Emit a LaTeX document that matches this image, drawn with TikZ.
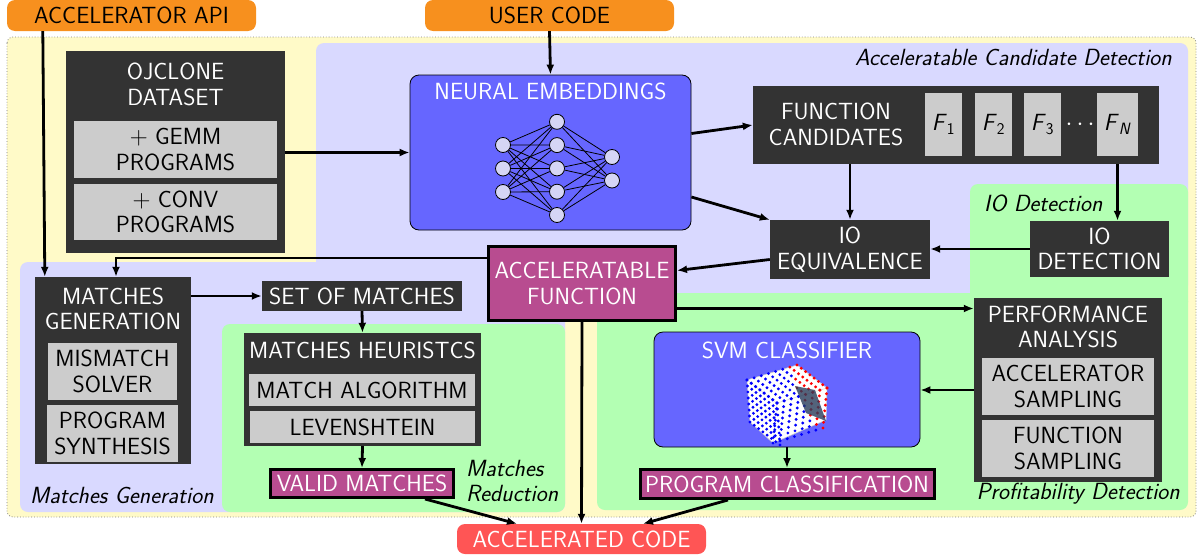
\documentclass[tikz,border=0pt]{standalone}
\usetikzlibrary{arrows.meta}
\renewcommand{\familydefault}{\sfdefault}
\definecolor{cyellow}{HTML}{FFFAC8}
\definecolor{clav}{HTML}{D9D9FF}
\definecolor{cgreen}{HTML}{B3FFB3}
\definecolor{cdark}{HTML}{333333}
\definecolor{cgrey}{HTML}{CCCCCC}
\definecolor{cblue}{HTML}{6666FF}
\definecolor{cmag}{HTML}{B84C90}
\definecolor{corange}{HTML}{F7901E}
\definecolor{cred}{HTML}{FF5555}
\definecolor{cneuron}{HTML}{D5D5F5}
\definecolor{cplane}{RGB}{40,60,90}
\tikzset{
	region/.style={rounded corners=8pt},
	darkbox/.style={fill=cdark, text=white, inner sep=0pt, align=center},
	greybox/.style={fill=cgrey, text=black, inner sep=0pt, align=center},
	bluebox/.style={fill=cblue, draw=black, line width=0.8pt, rounded corners=9pt, inner sep=0pt},
	accbox/.style={fill=cmag, draw=black, line width=3pt, text=white, inner sep=0pt, align=center},
	endbox/.style={rounded corners=8pt, inner sep=0pt, minimum width=249pt, minimum height=31pt},
	neuron/.style={circle, fill=cneuron, draw=black, line width=0.8pt, minimum size=15pt, inner sep=0pt},
	link/.style={line width=2.8pt, -{Latex[length=10pt,width=8pt]}},
	regionlabel/.style={font=\fontsize{23.4}{25.5}\selectfont\itshape, inner sep=0pt}
}
\begin{document}
\begin{tikzpicture}[x=1pt, y=-1pt, font=\fontsize{23.4}{25.5}\selectfont]
			\useasboundingbox (0,0) rectangle (1198,554);

			\draw[fill=cyellow, draw=gray, dotted, line width=0.8pt, rounded corners=6pt] (7,37) rectangle (1196,517);
			\fill[region, clav] (316,43) rectangle (1188,293);
			\fill[region, clav] (20,262) rectangle (565,512);
			\fill[region, cgreen] (970,184) rectangle (1188,310);
			\fill[region, cgreen] (597,293) rectangle (1188,510);
			\fill[region, cgreen] (222,324) rectangle (565,512);

			\node[regionlabel, anchor=east] (lacd) at(1172, 57){Acceleratable Candidate Detection};
			\node[regionlabel, anchor=west] (liod) at(984, 203){IO Detection};
			\node[regionlabel, anchor=west] (lmg) at(30, 495){Matches Generation};
			\node[regionlabel, anchor=west, align=left] (lmr) at(466, 481){Matches\\Reduction};
			\node[regionlabel, anchor=east] (lpd) at(1180, 494){Profitability Detection};

			\node[endbox, fill=corange] (api) at(131.5, 15.5){ACCELERATOR API};
			\node[endbox, fill=corange] (user) at(549.5, 15.5){USER CODE};
			\node[endbox, fill=cred, text=white, minimum height=30pt] (acode) at(581.5, 539){ACCELERATED CODE};

			\node[darkbox, minimum width=219pt, minimum height=202pt] (ojc) at(175.5, 152){};
				\node[text=white, align=center] (ojct) at(175.5, 84.5){OJCLONE\\DATASET};
				\node[greybox, minimum width=203pt, minimum height=57pt] (gemm) at(175.5, 149.5){$+$ GEMM\\PROGRAMS};
				\node[greybox, minimum width=203pt, minimum height=56pt] (conv) at(175.5, 212){$+$ CONV\\PROGRAMS};

			\node[bluebox, minimum width=281pt, minimum height=155pt] (neural) at(550.5, 152.5){};
				\node[text=white] (neuralt) at(550.5, 91){NEURAL EMBEDDINGS};
				\foreach \i in {1,...,3}
					\node[neuron] (in\i) at(503, {121.5+23.5*\i}){};
				\foreach \j in {1,...,5}
					\node[neuron] (h\j) at(557, {98.5+23.3*\j}){};
				\foreach \k in {1,2}
					\node[neuron] (o\k) at(612, {133.5+23.5*\k}){};
				\foreach \i in {1,...,3}
					\foreach \j in {1,...,5}
						\draw[line width=0.8pt] (in\i) -- (h\j);
				\foreach \j in {1,...,5}
					\foreach \k in {1,2}
						\draw[line width=0.8pt] (h\j) -- (o\k);

			\node[darkbox, minimum width=406pt, minimum height=78pt] (fc) at(956, 125){};
				\node[text=white, align=center] (fct) at(836, 124.5){FUNCTION\\CANDIDATES};
				\node[greybox, minimum width=37pt, minimum height=63pt] (f1) at(943.5, 124.5){\textit{F}\textsubscript{1}};
				\node[greybox, minimum width=37pt, minimum height=63pt] (f2) at(993.5, 124.5){\textit{F}\textsubscript{2}};
				\node[greybox, minimum width=37pt, minimum height=63pt] (f3) at(1042.5, 124.5){\textit{F}\textsubscript{3}};
				\node[text=white] (fdots) at(1080, 124.5){$\cdots$};
				\node[greybox, minimum width=41pt, minimum height=63pt] (fN) at(1117.5, 124.5){\textit{F}\textsubscript{\textit{N}}};

			\node[darkbox, minimum width=160pt, minimum height=59pt] (ioeq) at(850, 249.5){IO\\EQUIVALENCE};
			\node[darkbox, minimum width=139pt, minimum height=56pt] (iodet) at(1099.5, 249){IO\\DETECTION};
			\node[accbox, minimum width=187pt, minimum height=74pt] (accf) at(582, 283.5){ACCELERATABLE\\FUNCTION};

			\node[darkbox, minimum width=156pt, minimum height=187pt] (mgen) at(113, 370.5){};
				\node[text=white, align=center] (mgent) at(113, 309){MATCHES\\GENERATION};
				\node[greybox, minimum width=129pt, minimum height=57pt] (mism) at(112.5, 371.5){MISMATCH\\SOLVER};
				\node[greybox, minimum width=131pt, minimum height=57pt] (psyn) at(112.5, 433.5){PROGRAM\\SYNTHESIS};

			\node[darkbox, minimum width=200pt, minimum height=30pt] (setm) at(362, 296){SET OF MATCHES};
			\node[darkbox, minimum width=237pt, minimum height=113pt] (mheu) at(362.5, 389.5){};
				\node[text=white] (mheut) at(362.5, 350){MATCHES HEURISTCS};
				\node[greybox, minimum width=226pt, minimum height=32pt] (malg) at(362, 390){MATCH ALGORITHM};
				\node[greybox, minimum width=225pt, minimum height=32pt] (leven) at(362.5, 427){LEVENSHTEIN};
			\node[accbox, minimum width=183pt, minimum height=28pt] (valm) at(362, 483.5){VALID MATCHES};

			\node[bluebox, minimum width=266pt, minimum height=115pt] (svm) at(787, 389.5){};
				\node[text=white] (svmt) at(787, 350){SVM CLASSIFIER};
				\filldraw[fill=white, draw=gray!40, line width=0.6pt] (747,380) -- (797,365) -- (827,388) -- (826,420) -- (773,443) -- (750,422) -- cycle;
				\draw[gray!30, line width=0.5pt] (747,380) -- (777,403) -- (827,388) (777,403) -- (773,443);
				\foreach \ox/\oy/\ux/\uy/\vx/\vy in {747/380/50/-15/30/23, 747/380/30/23/3/42, 777/403/50/-15/-4/40}
					\foreach \s in {0,...,7}
						\foreach \t in {0,...,7}{
							\pgfmathsetmacro\px{\ox+\s/7*\ux+\t/7*\vx}
							\pgfmathsetmacro\py{\oy+\s/7*\uy+\t/7*\vy}
							\pgfmathtruncatemacro\isred{(\px-0.45*(\py-386))>796}
							\ifnum\isred=1 \def\dotc{red}\else\def\dotc{blue}\fi
							\fill[\dotc] (\px,\py) circle (1.6pt);
						}
				\fill[cplane, opacity=0.8] (795,386) -- (815,390) -- (826,421) -- (806,413) -- cycle;
			\node[accbox, minimum width=294pt, minimum height=29pt] (pcls) at(787, 484){PROGRAM CLASSIFICATION};

			\node[darkbox, minimum width=188pt, minimum height=184pt] (perf) at(1068, 390){};
				\node[text=white, align=center] (perft) at(1068, 327){PERFORMANCE\\ANALYSIS};
				\node[greybox, minimum width=172pt, minimum height=57pt] (accs) at(1068, 386.5){ACCELERATOR\\SAMPLING};
				\node[greybox, minimum width=172pt, minimum height=57pt] (funs) at(1068, 448.5){FUNCTION\\SAMPLING};

			\draw[link] ([xshift=36pt]api.south west) -- ([xshift=10pt]mgen.north west);
			\draw[link] (user.south) -- (neural.north);
			\draw[link] (ojc.east |- neural.west) -- (neural.west);
			\draw[link] ([yshift=19pt]neural.east) -- (fc.west);
			\draw[link] ([yshift=-44.5pt]neural.east) -- (ioeq.north west);
			\draw[link] (ioeq.north |- fc.south) -- (ioeq.north);
			\draw[link] (fN.south |- fc.south) -- (fN.south |- iodet.north);
			\draw[link] (iodet.west) -- (iodet.west -| ioeq.east);
			\draw[link] ([yshift=-10pt]ioeq.west) -- ([yshift=13pt]accf.east);
			\draw[link] ([yshift=25.5pt]accf.west) -| ([xshift=3pt]mgen.north);
			\draw[link] (mgen.east |- setm.west) -- (setm.west);
			\draw[link] (setm.south) -- (mheu.north);
			\draw[link] (mheu.south) -- (valm.north);
			\draw[link] ([xshift=63pt]valm.south) -- ([xshift=-64.5pt]acode.north);
			\draw[link] (accf.south) -- (acode.north);
			\draw[link] ([xshift=-59pt]pcls.south) -- ([xshift=61.5pt]acode.north);
			\draw[link] ([yshift=-25pt]accf.east) -- ([yshift=-25pt]accf.east -| perf.west);
			\draw[link] (perf.west) -- (perf.west -| svm.east);
			\draw[link] (svm.south) -- (pcls.north);

\end{tikzpicture}
\end{document}
